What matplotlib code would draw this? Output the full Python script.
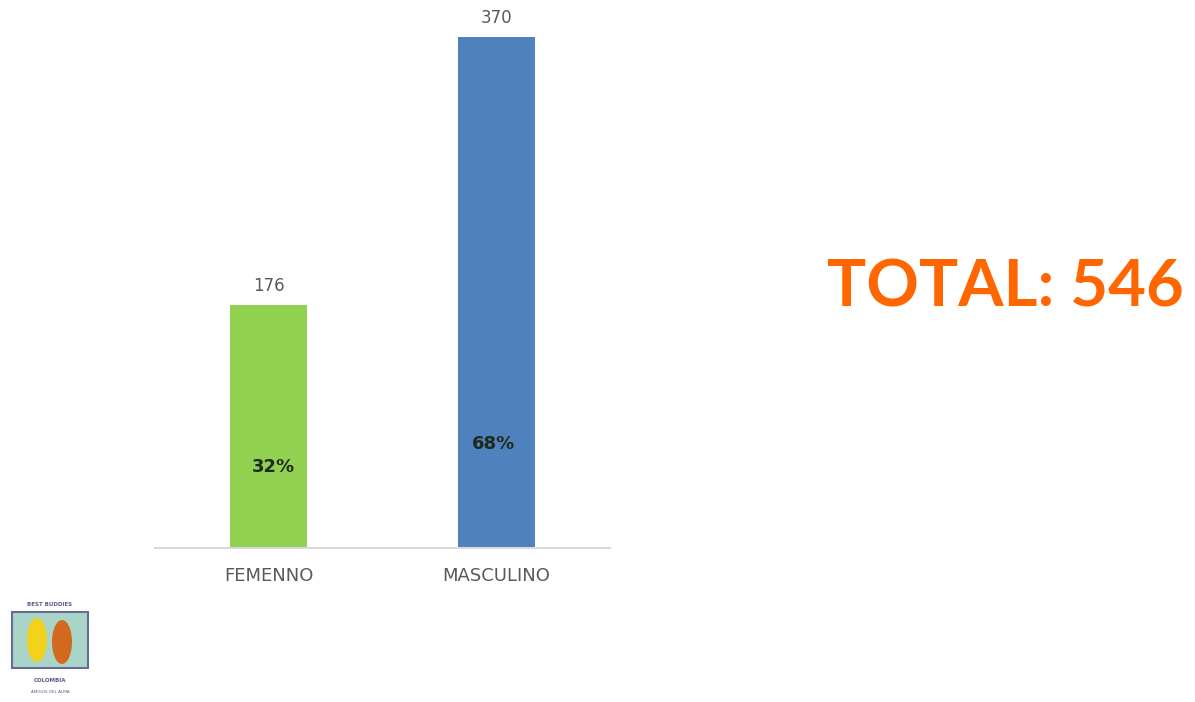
import matplotlib
matplotlib.use("Agg")
import matplotlib.pyplot as plt
from matplotlib.patches import Rectangle, Ellipse

categories = ["FEMENNO", "MASCULINO"]
values = [176, 370]
percents = ["32%", "68%"]
pct_y = [59, 75]
colors = ["#92D050", "#4F81BD"]
total_label = "TOTAL: 546"

W, H = 1195, 702
fig = plt.figure(figsize=(W / 100, H / 100), dpi=100)
ax = fig.add_axes([155 / W, 1 - 548 / H, (610 - 155) / W, 511 / H])

x = list(range(len(categories)))
ax.bar(x, values, width=0.34, color=colors, zorder=2)
ax.set_xlim(-0.5, 1.5)
ax.set_ylim(0, 370)
for s in ["top", "right", "left"]:
    ax.spines[s].set_visible(False)
ax.spines["bottom"].set_color("#D9D9D9")
ax.spines["bottom"].set_linewidth(1.5)
ax.set_yticks([])
ax.set_xticks(x)
ax.set_xticklabels(categories, fontsize=13, color="#595959")
ax.tick_params(axis="x", length=0, pad=14)

for xi, v in zip(x, values):
    ax.text(xi, v + 7, str(v), ha="center", va="bottom", fontsize=12,
            color="#595959", clip_on=False)
for xi, p, py in zip(x, percents, pct_y):
    ax.text(xi + (0.02 if xi == 0 else -0.01), py, p, ha="center", va="center",
            fontsize=13, color="#1F2A1F", fontweight="bold")

fig.text(1005 / W, 1 - 288 / H, total_label, ha="center", va="center",
         fontsize=47, fontweight="bold", color="#FF6600", family="Lato")

# simple logo approximation
def fx(px):
    return px / W
def fy(py):
    return 1 - py / H
fig.text(fx(50), fy(605), "BEST BUDDIES", ha="center", va="center", fontsize=4,
         color="#5A5A8A", fontweight="bold")
fig.patches.append(Rectangle((fx(12), fy(668)), fx(76), (668 - 612) / H,
                             transform=fig.transFigure, facecolor="#A8D5C8",
                             edgecolor="#6A6A9A", lw=1.5))
fig.patches.append(Ellipse((fx(37), fy(640)), fx(20), 44 / H,
                           transform=fig.transFigure, facecolor="#F2D21B"))
fig.patches.append(Ellipse((fx(62), fy(642)), fx(20), 44 / H,
                           transform=fig.transFigure, facecolor="#D2691E"))
fig.text(fx(50), fy(680), "COLOMBIA", ha="center", va="center", fontsize=4,
         color="#5A5A8A", fontweight="bold")
fig.text(fx(50), fy(692), "AMIGOS DEL ALMA", ha="center", va="center", fontsize=3,
         color="#5A5A8A")

fig.savefig("out.png", dpi=100, facecolor="white")
